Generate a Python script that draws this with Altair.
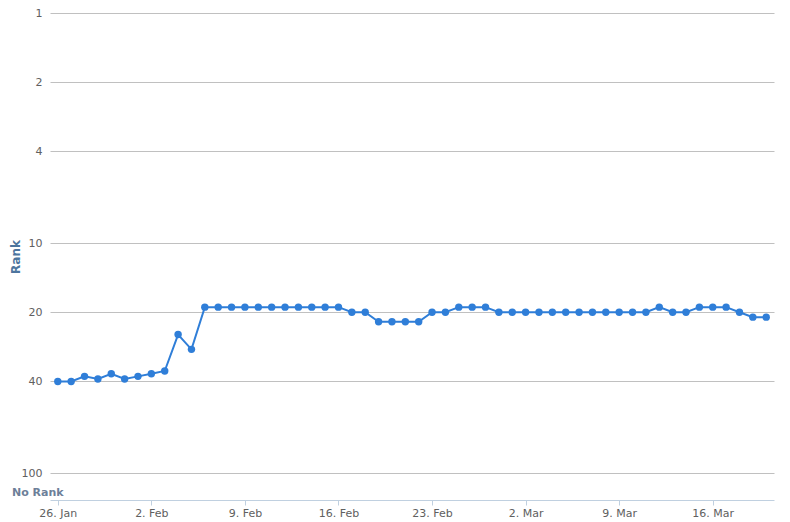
import altair as alt
import pandas as pd

# ---- data ----
dates = pd.date_range("2015-01-26", "2015-03-20", freq="D").strftime("%Y-%m-%dT00:00:00").tolist()
ranks = [40, 40, 38, 39, 37, 39,            # 26-31 Jan
         38, 37, 36, 25, 29,                # 1-5 Feb
         19, 19, 19, 19, 19, 19, 19, 19, 19, 19, 19,  # 6-16 Feb
         20, 20,                            # 17-18 Feb
         22, 22, 22, 22,                    # 19-22 Feb
         20, 20,                            # 23-24 Feb
         19, 19, 19,                        # 25-27 Feb
         20, 20, 20, 20, 20, 20, 20, 20, 20, 20, 20, 20,  # 28 Feb - 11 Mar
         19, 20, 20, 19, 19, 19, 20, 21, 21]  # 12-20 Mar
y_ticks = [1, 2, 4, 10, 20, 40, 100]
no_rank_label = ["No Rank"]
no_rank_value = [122]
x_tick_days = [(1, 26), (2, 2), (2, 9), (2, 16), (2, 23), (3, 2), (3, 9), (3, 16)]

df = pd.DataFrame({"date": dates, "rank": ranks})
df_nr = pd.DataFrame({"label": no_rank_label, "rank": no_rank_value})

FONT = "DejaVu Sans"
BLUE = "#2f7ed8"
H = 487

x_enc = alt.X(
    "date:T",
    title=None,
    scale=alt.Scale(domain=[alt.DateTime(year=2015, month=1, date=25, hours=10),
                            alt.DateTime(year=2015, month=3, date=20, hours=14)]),
    axis=alt.Axis(
        values=[alt.DateTime(year=2015, month=m, date=d) for m, d in x_tick_days],
        format="%-d. %b",
        grid=False,
        domainColor="#C0D0E0",
        tickColor="#C0D0E0",
        tickSize=5,
        labelPadding=2,
        labelColor="#606060",
        labelFontSize=11,
        labelFont=FONT,
    ),
)

y_scale = alt.Scale(type="log", domain=[1, 131], reverse=True, nice=False)

line = alt.Chart(df).mark_line(
    color=BLUE, strokeWidth=2,
    point=alt.OverlayMarkDef(filled=True, size=55, color=BLUE, opacity=1),
).encode(
    x=x_enc,
    y=alt.Y(
        "rank:Q",
        scale=y_scale,
        axis=alt.Axis(
            values=y_ticks,
            format="d",
            title="Rank",
            titleAngle=-90,
            titleX=-35,
            titleY=H / 2,
            titleAlign="center",
            titleBaseline="middle",
            titleColor="#4d759e",
            titleFont=FONT,
            titleFontSize=12,
            titleFontWeight="bold",
            grid=True,
            gridColor="#C0C0C0",
            domain=False,
            ticks=False,
            labelPadding=8,
            labelColor="#606060",
            labelFontSize=11,
            labelFont=FONT,
        ),
    ),
)

no_rank = alt.Chart(df_nr).mark_text(
    align="left", baseline="middle", fontWeight="bold",
    color="#6d7f99", fontSize=11, font=FONT,
).encode(
    x=alt.value(-38),
    y=alt.Y("rank:Q", scale=y_scale),
    text="label:N",
)

chart = alt.layer(line, no_rank).properties(
    width=724,
    height=H,
    autosize=alt.AutoSizeParams(type="none"),
    padding={"left": 42, "top": 5, "right": 8, "bottom": 22},
).configure_view(stroke=None)

chart.save("out.html", embed_options={"renderer": "svg", "actions": False})
